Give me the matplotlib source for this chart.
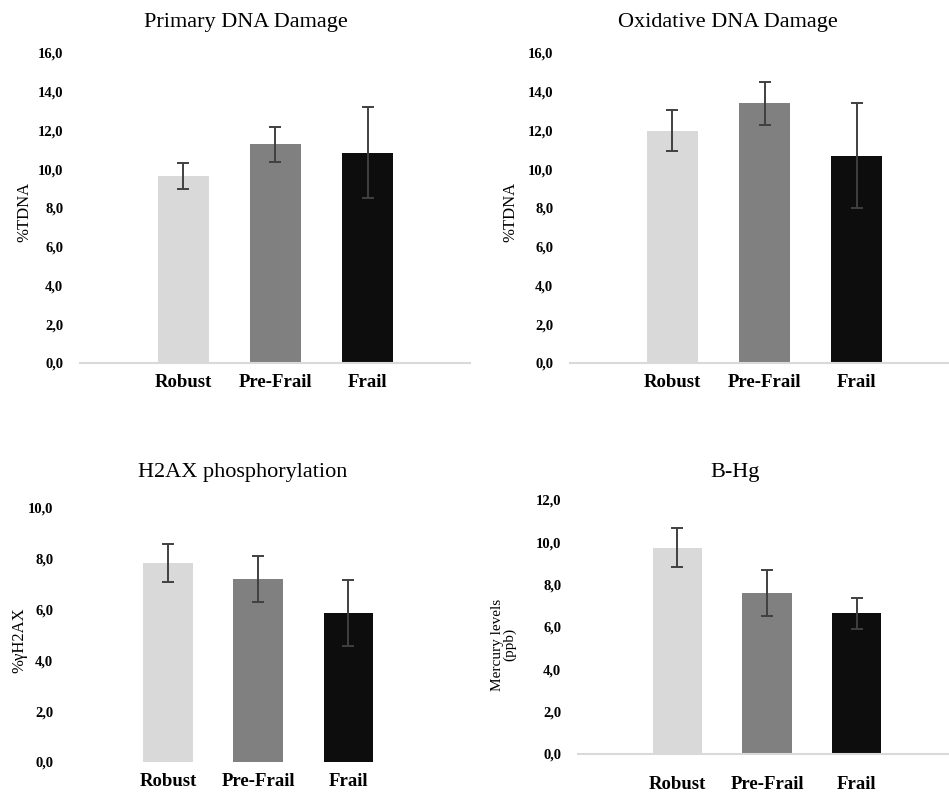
import numpy as np
import matplotlib.pyplot as plt

plt.rcParams['font.family'] = ['Liberation Serif', 'DejaVu Serif']

groups = ['Robust', 'Pre-Frail', 'Frail']
bar_colors = ['#d9d9d9', '#808080', '#0d0d0d']

primary_mean = [9.65, 11.3, 10.85]
primary_err = [0.65, 0.9, 2.35]

oxid_mean = [12.0, 13.4, 10.7]
oxid_err = [1.05, 1.1, 2.7]

h2ax_mean = [7.85, 7.2, 5.85]
h2ax_err = [0.75, 0.9, 1.3]

hg_mean = [9.75, 7.6, 6.65]
hg_err = [0.92, 1.1, 0.73]

W, H = 949, 793
fig = plt.figure(figsize=(W / 100, H / 100), dpi=100)


def px_axes(left, right, top, bottom):
    return fig.add_axes([left / W, 1 - bottom / H, (right - left) / W, (bottom - top) / H])


def panel(ax, means, errs, title, title_xy, ylabel, ylab_xy, ymax, xlim,
          baseline=True, ylab_size=12, xpad=8):
    x = np.arange(len(groups))
    ax.bar(x, means, width=0.55, color=bar_colors, zorder=2)
    ax.errorbar(x, means, yerr=errs, fmt='none', ecolor='#404040',
                elinewidth=1.4, capsize=4, capthick=1.4, zorder=3)
    ax.set_ylim(0, ymax)
    ax.set_xlim(*xlim)
    ticks = np.arange(0, ymax + 0.1, 2)
    ax.set_yticks(ticks)
    ax.set_yticklabels(['{:.1f}'.format(v).replace('.', ',') for v in ticks],
                       fontsize=10.5, fontweight='bold')
    ax.set_xticks(x)
    ax.set_xticklabels(groups, fontsize=13.5, fontweight='bold')
    ax.tick_params(axis='both', length=0)
    ax.tick_params(axis='y', pad=12)
    ax.tick_params(axis='x', pad=xpad)
    for s in ['top', 'right', 'left']:
        ax.spines[s].set_visible(False)
    if baseline:
        ax.spines['bottom'].set_color('#d9d9d9')
        ax.spines['bottom'].set_linewidth(1.5)
    else:
        ax.spines['bottom'].set_visible(False)
    ax.set_ylabel(ylabel, fontsize=ylab_size, linespacing=0.95)
    ax.yaxis.set_label_coords(*ylab_xy)
    fig.text(title_xy[0] / W, 1 - title_xy[1] / H, title, fontsize=16,
             ha='center', va='center')


ax1 = px_axes(80, 470, 53, 363)
panel(ax1, primary_mean, primary_err, 'Primary DNA Damage', (246, 22),
      '%TDNA', (-0.123, 0.487), 16, (-1.12, 3.11))

ax2 = px_axes(570, 949, 53, 363)
panel(ax2, oxid_mean, oxid_err, 'Oxidative DNA Damage', (728, 22),
      '%TDNA', (-0.135, 0.487), 16, (-1.11, 3.0))

ax3 = px_axes(70, 460, 508, 762)
panel(ax3, h2ax_mean, h2ax_err, 'H2AX phosphorylation', (243, 472),
      '%γH2AX', (-0.11, 0.48), 10, (-1.09, 3.24), baseline=False)

ax4 = px_axes(578, 949, 500, 754)
panel(ax4, hg_mean, hg_err, 'B-Hg', (735, 473),
      'Mercury levels\n(ppb)', (-0.165, 0.43), 12, (-1.11, 3.03),
      ylab_size=11, xpad=16)

fig.savefig('out.png', dpi=100)
